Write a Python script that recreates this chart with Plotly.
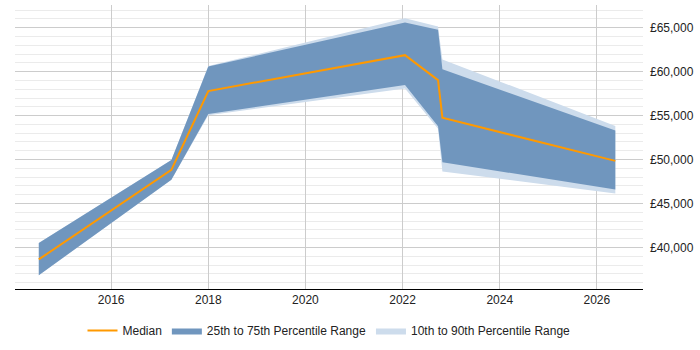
import plotly.graph_objects as go

years = [2014.51, 2017.24, 2018.0, 2022.05, 2022.73, 2022.82, 2026.38]
median = [38640, 48830, 57800, 61880, 59040, 54760, 49850]
p25 = [36840, 47710, 55180, 58475, 53790, 49700, 46580]
p75 = [40510, 49960, 60580, 65600, 64775, 60275, 53300]
p10 = [36840, 47710, 55050, 58100, 53520, 48650, 46130]
p90 = [40510, 49960, 60650, 66090, 65150, 61400, 53830]

fig = go.Figure()

fig.add_trace(go.Scatter(
    x=years + years[::-1], y=p90 + p10[::-1], fill="toself",
    fillcolor="rgba(205,220,236,1)", line=dict(width=0, color="rgba(205,220,236,1)"),
    mode="lines", name="10th to 90th Percentile Range", legendrank=3, hoverinfo="skip"))
fig.add_trace(go.Scatter(
    x=years + years[::-1], y=p75 + p25[::-1], fill="toself",
    fillcolor="rgba(112,150,190,1)", line=dict(width=0, color="rgba(112,150,190,1)"),
    mode="lines", name="25th to 75th Percentile Range", legendrank=2, hoverinfo="skip"))
fig.add_trace(go.Scatter(
    x=years, y=median, mode="lines", line=dict(color="#FF9900", width=2),
    name="Median", legendrank=1))

fig.update_layout(
    width=700, height=350,
    margin=dict(l=15, r=57, t=5, b=58),
    paper_bgcolor="white", plot_bgcolor="white",
    font=dict(family="Liberation Sans, Arial, sans-serif", size=12, color="#222"),
    showlegend=True,
    legend=dict(orientation="h", x=0.5, xanchor="center", y=-0.146, yanchor="middle",
                font=dict(size=12, color="#222"), traceorder="normal", itemwidth=30),
    xaxis=dict(range=[2014.02, 2026.95], tickmode="array",
               tickvals=[2016, 2018, 2020, 2022, 2024, 2026],
               ticktext=["2016", "2018", "2020", "2022", "2024", "2026"],
               showgrid=True, gridcolor="#cccccc", gridwidth=1,
               showline=True, linecolor="#000000", linewidth=1,
               zeroline=False, ticks="", tickfont=dict(size=12, color="#222")),
    yaxis=dict(range=[35270, 67590], side="right", tickmode="array",
               tickvals=[40000, 45000, 50000, 55000, 60000, 65000],
               ticktext=["£40,000", "£45,000", "£50,000", "£55,000", "£60,000", "£65,000"],
               showgrid=True, gridcolor="#cccccc", gridwidth=1,
               minor=dict(dtick=1000, tick0=0, showgrid=True, gridcolor="#ebebeb", gridwidth=1),
               showline=False, zeroline=False, ticks="", ticklabelstandoff=6,
               tickfont=dict(size=12, color="#222")),
)

fig.write_html("out.html")
